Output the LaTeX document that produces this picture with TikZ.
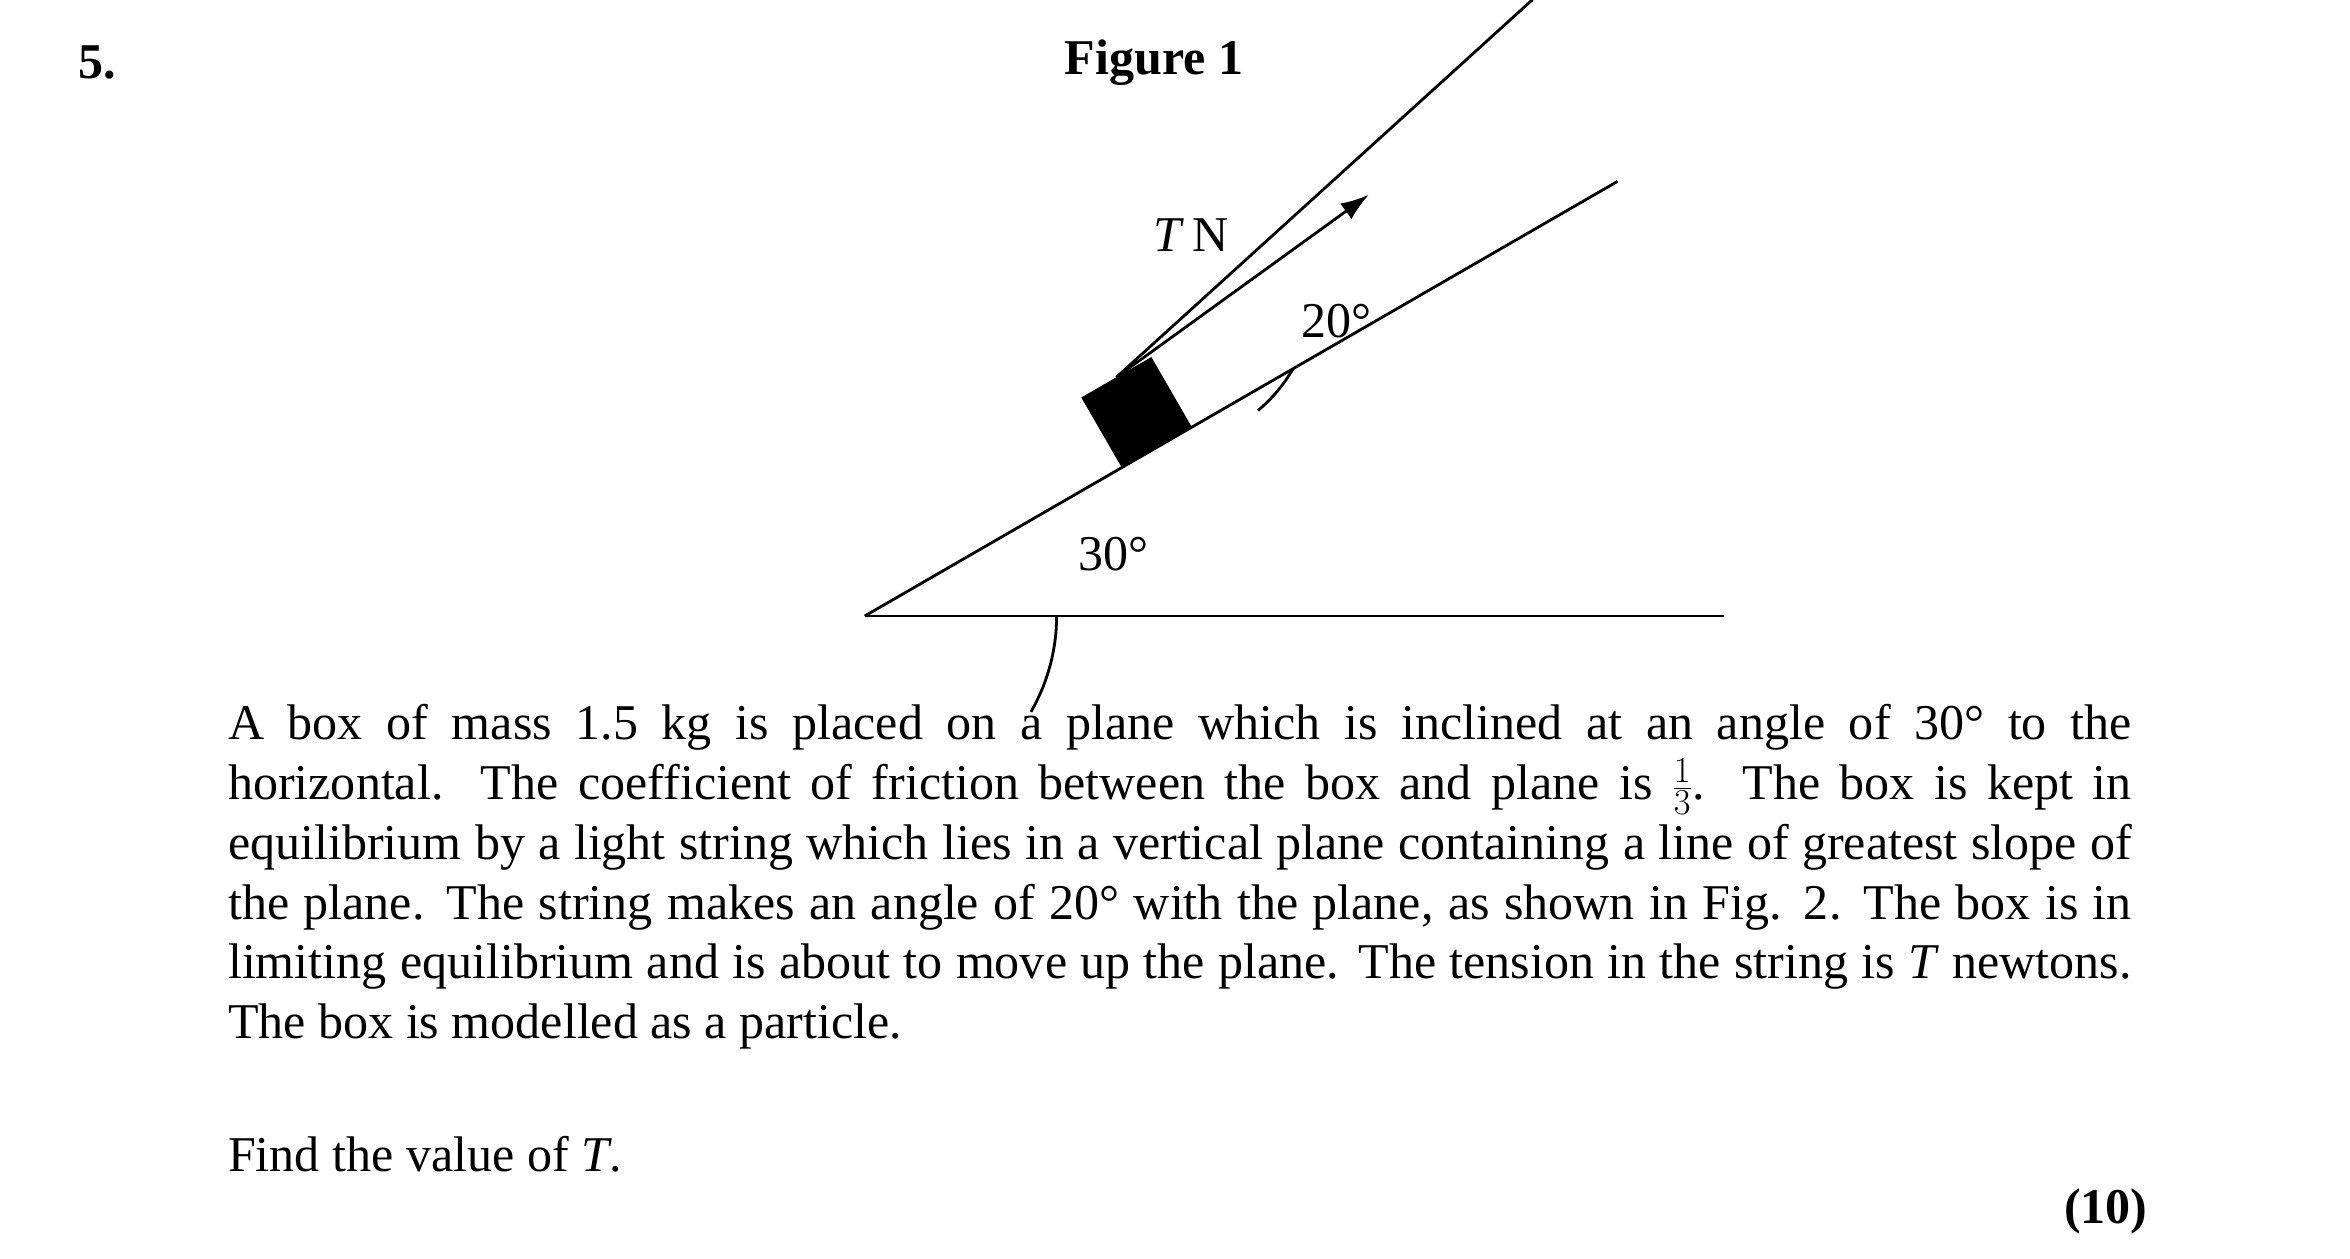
\documentclass[tikz,border=0pt]{standalone}
\usepackage{fontspec}
\setmainfont{Liberation Serif}
\usetikzlibrary{arrows.meta,calc}
\begin{document}
\begin{tikzpicture}[x=0.03cm,y=-0.03cm,
  lbl/.style={font=\fontsize{28.5}{34}\selectfont,inner sep=0pt},
  ln/.style={line width=1.6pt}]
\useasboundingbox (0,0) rectangle (1568,840);
\node[lbl,font=\fontsize{28.5}{34}\selectfont\bfseries] (num) at (65,42) {5.};
\node[lbl,font=\fontsize{28.5}{34}\selectfont\bfseries] (fig) at (770,42) {Figure 1};
\coordinate (O) at (577,411);
\coordinate (H) at (1150,411);
\coordinate (P) at ($(O)+(-30:580)$);
\draw[ln] (O) -- (H);
\draw[ln] (O) -- (P);
\draw[ln] ($(O)+(128,0)$) arc[start angle=0,end angle=30,radius=128];
\node[lbl] (a30) at (743,370) {30°};
\coordinate (F) at ($(O)+(-30:225)$);
\fill[black] (F) ++(-30:-27) -- ++(-30:54) -- ++(-120:54) -- ++(-30:-54) -- cycle;
\coordinate (S0) at ($(F)+(-120:54)$);
\coordinate (S1) at ($(F)+(-50:390)$);
\coordinate (M) at ($(F)+(-50:220)$);
\draw[ln] (S0) -- (S1);
\draw[ln,-{Latex[length=16pt,width=11pt]}] (S0) -- (M);
\draw[ln] ($(F)+(-30:105)$) arc[start angle=30,end angle=50,radius=105];
\node[lbl] (a20) at (892,214) {20°};
\node[lbl] (T) at (795,157) {\textit{T}\,N};
\node[lbl,anchor=north west,text width=38.1cm,align=justify] (txt) at (152,470) {A box of mass 1.5 kg is placed on a plane which is inclined at an angle of 30° to the\linebreak horizontal. The coefficient of friction between the box and plane is $\frac{1}{3}$. The box is kept in\linebreak equilibrium by a light string which lies in a vertical plane containing a line of greatest slope of\linebreak the plane. The string makes an angle of 20° with the plane, as shown in Fig. 2. The box is in\linebreak limiting equilibrium and is about to move up the plane. The tension in the string is \textit{T} newtons.\linebreak The box is modelled as a particle.};
\node[lbl,anchor=west] (find) at (152,770) {Find the value of \textit{T}.};
\node[lbl,font=\fontsize{28.5}{34}\selectfont\bfseries] (marks) at (1405,808) {(10)};
\end{tikzpicture}
\end{document}
